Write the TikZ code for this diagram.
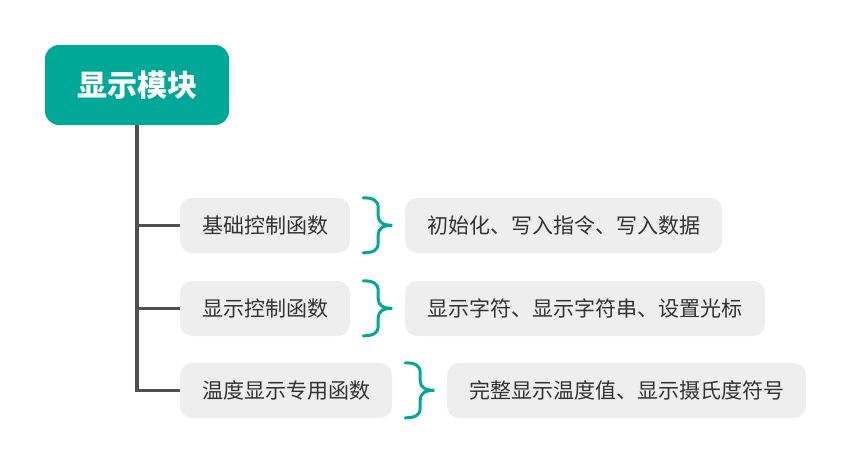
\documentclass[tikz,border=0pt]{standalone}
\usepackage{fontspec}
\setmainfont{Noto Sans CJK SC}
\usetikzlibrary{calc}
\definecolor{teal1}{HTML}{00A898}
\definecolor{boxgray}{HTML}{EEEEEE}
\definecolor{txt}{HTML}{333333}
\definecolor{trunkc}{HTML}{505050}
\tikzset{
  rootbox/.style={fill=teal1, rounded corners=14pt, text=white, font=\fontsize{30}{34}\selectfont\bfseries, inner sep=0pt, minimum width=184pt, minimum height=80pt},
  itembox/.style={fill=boxgray, rounded corners=12pt, text=txt, font=\fontsize{21}{24}\selectfont, inner sep=0pt, minimum height=55pt},
  trunk/.style={draw=trunkc, line width=3.5pt, line join=miter},
  bracestyle/.style={draw=teal1, line width=3pt, line cap=round},
  tbrace/.pic={\draw[bracestyle] (0,0) .. controls (9,0) and (15,2) .. (15,10) -- (15,18) .. controls (15,24.5) and (20,27.5) .. (29,27.5) .. controls (20,27.5) and (15,30.5) .. (15,37) -- (15,45) .. controls (15,53) and (9,55) .. (0,55);}
}
\begin{document}
\begin{tikzpicture}[x=1pt,y=-1pt]
\useasboundingbox (0,0) rectangle (853,464);
\node[rootbox] (root) at (137,85) {显示模块};
\node[itembox, minimum width=170pt] (c1) at (265,225.5) {基础控制函数};
\node[itembox, minimum width=170pt] (c2) at (265,308.5) {显示控制函数};
\node[itembox, minimum width=212pt] (c3) at (286,390.5) {温度显示专用函数};
\node[itembox, minimum width=317pt] (r1) at (563.5,225.5) {初始化、写入指令、写入数据};
\node[itembox, minimum width=360pt] (r2) at (585,308.5) {显示字符、显示字符串、设置光标};
\node[itembox, minimum width=359pt] (r3) at (626.5,390.5) {完整显示温度值、显示摄氏度符号};
\draw[trunk] (root.south) |- (c3.west);
\draw[trunk] (c1.west) -- (c1.west -| root.south);
\draw[trunk] (c2.west) -- (c2.west -| root.south);
\pic at ($(c1.north east)+(13,0)$) {tbrace};
\pic at ($(c2.north east)+(13,0)$) {tbrace};
\pic at ($(c3.north east)+(13,0)$) {tbrace};
\end{tikzpicture}
\end{document}
